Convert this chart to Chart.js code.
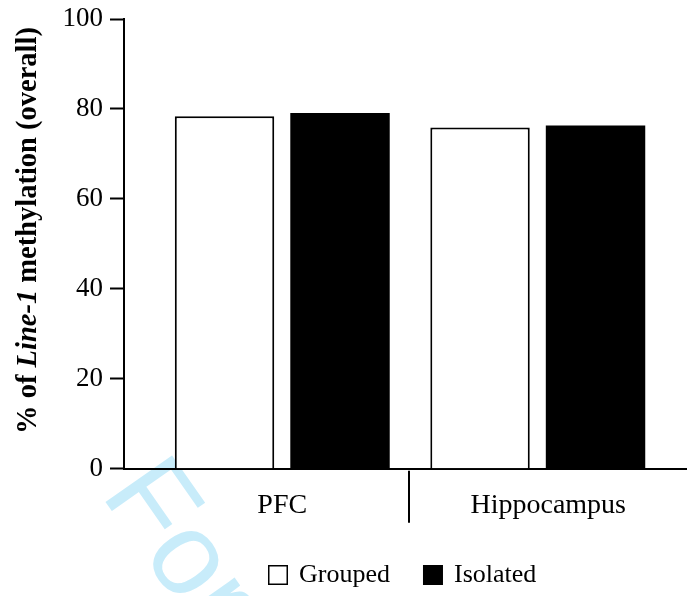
<!DOCTYPE html>
<html>
<head>
<meta charset="utf-8">
<script src="https://cdn.jsdelivr.net/npm/chart.js@4.4.1/dist/chart.umd.min.js"></script>
<style>
  html, body { margin: 0; padding: 0; background: #ffffff; }
  #wrap { width: 687px; height: 596px; }
</style>
</head>
<body>
<div id="wrap"><canvas id="chart" width="687" height="596"></canvas></div>
<script>
// Brain regions on the x axis
const categories = ['PFC', 'Hippocampus'];
// Housing groups
const seriesNames = ['Grouped', 'Isolated'];
// % of Line-1 methylation (overall)
const groupedValues = [78.4, 75.9];
const isolatedValues = [79.1, 76.3];
// y axis ticks
const yTicks = [0, 20, 40, 60, 80, 100];

const serif = "'Liberation Serif', 'Times New Roman', serif";

// Region i sits at x = i + 1 on a linear index axis
const toPoints = vals => vals.map((v, i) => ({ x: i + 1, y: v }));

const watermark = {
  id: 'watermark',
  beforeDraw(chart) {
    const ctx = chart.ctx;
    ctx.save();
    ctx.translate(100, 494);
    ctx.rotate(55 * Math.PI / 180);
    ctx.font = "118px 'Liberation Sans', Arial, sans-serif";
    ctx.fillStyle = 'rgb(200,236,250)';
    ctx.textBaseline = 'alphabetic';
    ctx.fillText('For Peer Review', 0, 0);
    ctx.restore();
  }
};

const extras = {
  id: 'extras',
  afterDraw(chart) {
    const ctx = chart.ctx;
    const xs = chart.scales.x;
    const area = chart.chartArea;

    // divider between the two regions
    const dx = Math.round(xs.getPixelForValue(1.5)) - 1;
    ctx.save();
    ctx.strokeStyle = '#000';
    ctx.lineWidth = 2;
    ctx.beginPath();
    ctx.moveTo(dx, area.bottom + 2);
    ctx.lineTo(dx, area.bottom + 54);
    ctx.stroke();
    ctx.restore();

    // y axis title with italic gene name
    const parts = [
      { t: '% of ', f: "bold 28.5px " + serif },
      { t: 'Line-1', f: "italic bold 28.5px " + serif },
      { t: ' methylation (overall)', f: "bold 28.5px " + serif }
    ];
    ctx.save();
    let total = 0;
    parts.forEach(p => { ctx.font = p.f; p.w = ctx.measureText(p.t).width; total += p.w; });
    const cy = 230.5;
    ctx.translate(36, cy + total / 2);
    ctx.rotate(-Math.PI / 2);
    ctx.fillStyle = '#000';
    ctx.textBaseline = 'alphabetic';
    ctx.textAlign = 'left';
    let px = 0;
    parts.forEach(p => { ctx.font = p.f; ctx.fillText(p.t, px, 0); px += p.w; });
    ctx.restore();

    // legend
    ctx.save();
    ctx.font = '26px ' + serif;
    ctx.textBaseline = 'alphabetic';
    let lx = 268;
    chart.data.datasets.forEach(ds => {
      const box = 20, by = 565;
      if (ds.backgroundColor === '#ffffff') {
        ctx.fillStyle = '#ffffff';
        ctx.fillRect(lx, by, box, box);
        ctx.strokeStyle = '#000';
        ctx.lineWidth = 1.5;
        ctx.strokeRect(lx + 0.75, by + 0.75, box - 1.5, box - 1.5);
      } else {
        ctx.fillStyle = '#000';
        ctx.fillRect(lx, by, box, box);
      }
      ctx.fillStyle = '#000';
      const tx = lx + box + 11;
      ctx.fillText(ds.label, tx, 582);
      lx = tx + ctx.measureText(ds.label).width + 33;
    });
    ctx.restore();
  }
};

new Chart(document.getElementById('chart'), {
  type: 'bar',
  data: {
    datasets: [
      {
        label: seriesNames[0],
        data: toPoints(groupedValues),
        backgroundColor: '#ffffff',
        borderColor: '#000000',
        borderWidth: 2,
        borderSkipped: 'start'
      },
      {
        label: seriesNames[1],
        data: toPoints(isolatedValues),
        backgroundColor: '#000000',
        borderColor: '#000000',
        borderWidth: 0
      }
    ]
  },
  options: {
    responsive: false,
    animation: false,
    events: [],
    categoryPercentage: 0.904,
    barPercentage: 0.861,
    layout: { padding: { top: 19, right: 0, bottom: 0, left: 0 } },
    plugins: {
      legend: { display: false },
      tooltip: { enabled: false },
      title: { display: false }
    },
    scales: {
      x: {
        type: 'linear',
        offset: false,
        min: 0.3806,
        max: 2.584,
        afterBuildTicks(scale) {
          scale.ticks = [{ value: 1 }, { value: 2.041 }];
        },
        afterFit(scale) {
          scale.height = 127.2;
          scale.paddingLeft = 0;
          scale.paddingRight = 0;
        },
        grid: { display: false, drawTicks: false },
        border: { display: true, color: '#000', width: 2 },
        ticks: {
          padding: 20,
          maxRotation: 0,
          autoSkip: false,
          color: '#000',
          font: { family: serif, size: 28 },
          callback: (v, i) => categories[i]
        }
      },
      y: {
        min: 0,
        max: 100,
        afterBuildTicks(scale) {
          scale.ticks = yTicks.map(v => ({ value: v }));
        },
        afterFit(scale) {
          scale.width = 124;
          scale.paddingTop = 0;
          scale.paddingBottom = 0;
        },
        grid: {
          drawOnChartArea: false,
          drawTicks: true,
          tickLength: 14,
          tickWidth: 2,
          tickColor: '#000'
        },
        border: { display: true, color: '#000', width: 2 },
        ticks: {
          padding: 7,
          color: '#000',
          font: { family: serif, size: 27 }
        }
      }
    }
  },
  plugins: [watermark, extras]
});
</script>
</body>
</html>
